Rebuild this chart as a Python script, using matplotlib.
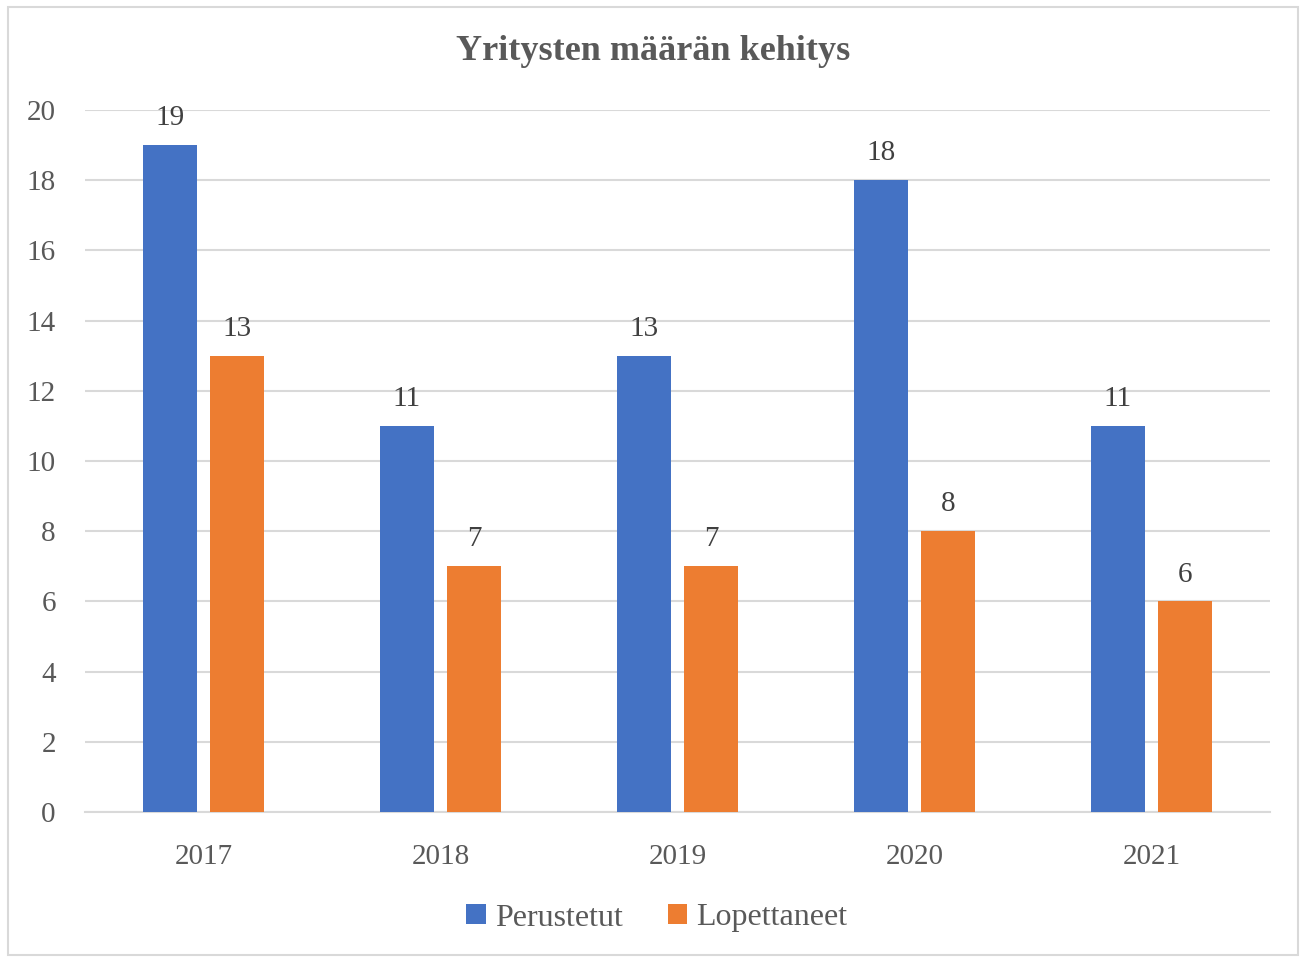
import matplotlib.pyplot as plt
import numpy as np
from matplotlib.patches import Rectangle

# data
vuodet = ["2017", "2018", "2019", "2020", "2021"]
perustetut = [19, 11, 13, 18, 11]
lopettaneet = [13, 7, 7, 8, 6]

sininen = "#4472C4"
oranssi = "#ED7D31"
teksti = "#595959"

plt.rcParams["font.family"] = ["Liberation Serif", "DejaVu Serif"]

fig = plt.figure(figsize=(13.01, 9.6), dpi=100)
# light border around the chart
fig.patches.append(Rectangle((8 / 1301, 5 / 960), 1290 / 1301, 948 / 960,
                             transform=fig.transFigure, fill=False,
                             edgecolor="#D9D9D9", linewidth=1.5))

ax = fig.add_axes([85 / 1301, 148 / 960, 1185 / 1301, 702 / 960])

x = np.arange(len(vuodet))
leveys = 0.228
b1 = ax.bar(x - 0.142, perustetut, leveys, color=sininen, label="Perustetut", zorder=3)
b2 = ax.bar(x + 0.142, lopettaneet, leveys, color=oranssi, label="Lopettaneet", zorder=3)

ax.bar_label(b1, padding=10, fontsize=21, color="#404040")
ax.bar_label(b2, padding=10, fontsize=21, color="#404040")

ax.set_xlim(-0.5, len(vuodet) - 0.5)
ax.set_ylim(0, 20)
ax.set_yticks(range(0, 21, 2))
ax.set_xticks(x)
ax.set_xticklabels(vuodet)
ax.grid(axis="y", color="#D9D9D9", linewidth=1.5, zorder=0)
ax.tick_params(axis="both", length=0, labelsize=21, colors=teksti)
ax.tick_params(axis="x", pad=23)
ax.tick_params(axis="y", pad=21)
for s in ["top", "right", "left"]:
    ax.spines[s].set_visible(False)
ax.spines["bottom"].set_color("#D9D9D9")
ax.spines["bottom"].set_linewidth(1.5)

fig.text(0.502, 1 - 52 / 960, "Yritysten määrän kehitys", ha="center", va="center",
         fontsize=26, fontweight="bold", color=teksti)

fig.legend(handles=[b1, b2], loc="center", bbox_to_anchor=(0.505, 1 - 918 / 960),
           ncol=2, frameon=False, fontsize=23, labelcolor=teksti,
           handlelength=0.6, handleheight=0.6, handletextpad=0.3, columnspacing=1.4)

plt.savefig("out.png", dpi=100)
